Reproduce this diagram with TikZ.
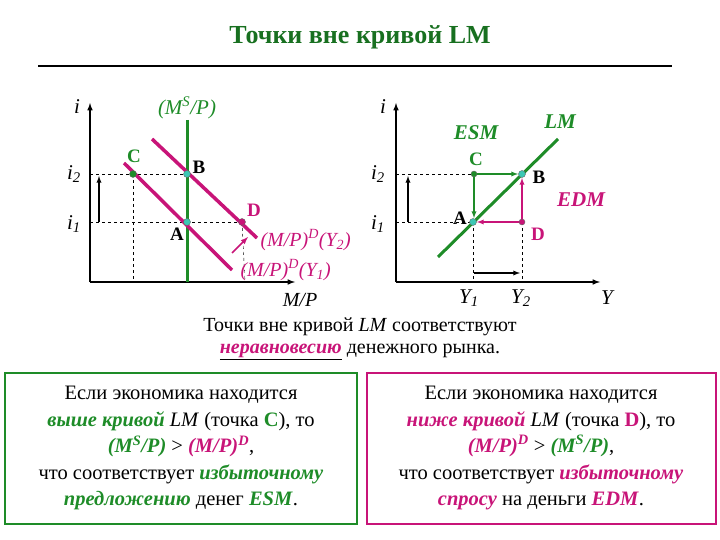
\documentclass[tikz,border=0pt]{standalone}
\usepackage{fontspec}
\setmainfont{Liberation Serif}
\begin{document}
\begin{tikzpicture}[x=1pt,y=-1pt,
 axis/.style={line width=1.5pt,-latex},
 dsh/.style={dashed,thin},
 pt/.style={circle,inner sep=0pt,minimum size=7pt,draw=black!60},
 lab/.style={font=\fontsize{17}{18}\selectfont}]
\definecolor{G}{RGB}{30,140,40}
\definecolor{M}{RGB}{200,20,120}
\definecolor{T}{RGB}{60,200,180}
\useasboundingbox (0,0) rectangle (720,540);
\node[font=\fontsize{26}{28}\selectfont\bfseries,text=G!80!black] (title) at (360,37) {Точки вне кривой LM};
\draw[line width=2pt] (38,66) -- (672,66);
% left panel
\coordinate (o1) at (90,282);
\draw[axis] (o1) -- (90,103);
\draw[axis] (o1) -- (295,282);
\node[font=\fontsize{21}{21}\selectfont\itshape] at (77,107) {i};
\node[font=\fontsize{21}{21}\selectfont\itshape] at (74,174) {i\textsubscript{2}};
\node[font=\fontsize{21}{21}\selectfont\itshape] at (74,224) {i\textsubscript{1}};
\node[font=\fontsize{20}{20}\selectfont\itshape] at (300,300) {M/P};
\coordinate (lC) at (133,174); \coordinate (lB) at (187,174);
\coordinate (lA) at (187,222); \coordinate (lD) at (242,222);
\draw[dsh] (90,174) -- (lB); \draw[dsh] (90,222) -- (lD);
\draw[dsh] (lC) -- (133,282); \draw[dsh] (lD) -- (245,282);
\draw[line width=1.3pt,-latex] (99,222) -- (99,176);
\draw[G,line width=3pt] (187,120) -- (187,282);
\draw[M,line width=3.5pt] (124,163) -- (232,270);
\draw[M,line width=3.5pt] (152,139) -- (257,238);
\draw[M,line width=1.5pt,-latex] (232,253) -- (248,237);
\node[pt,fill=G] (C1) at (lC) {}; \node[pt,fill=T] (B1) at (lB) {};
\node[pt,fill=T] (A1) at (lA) {}; \node[pt,fill=M] (D1) at (lD) {};
\node[text=G,font=\bfseries\fontsize{19}{20}\selectfont] at (134,156) {C};
\node[font=\bfseries\fontsize{19}{20}\selectfont] at (199,167) {B};
\node[font=\bfseries\fontsize{19}{20}\selectfont] at (177,234) {A};
\node[text=M,font=\bfseries\fontsize{19}{20}\selectfont] at (254,210) {D};
\node[text=G,font=\fontsize{21}{21}\selectfont\itshape] at (187,108) {(M\textsuperscript{S}/P)};
\node[text=M,font=\fontsize{20}{20}\selectfont\itshape,anchor=west] at (257,240) {(M/P)\textsuperscript{D}(Y\textsubscript{2})};
\node[text=M,font=\fontsize{20}{20}\selectfont\itshape,anchor=west] at (237,270) {(M/P)\textsuperscript{D}(Y\textsubscript{1})};
% right panel
\coordinate (o2) at (396,282);
\draw[axis] (o2) -- (396,103);
\draw[axis] (o2) -- (600,282);
\node[font=\fontsize{21}{21}\selectfont\itshape] at (383,107) {i};
\node[font=\fontsize{21}{21}\selectfont\itshape] at (378,174) {i\textsubscript{2}};
\node[font=\fontsize{21}{21}\selectfont\itshape] at (378,224) {i\textsubscript{1}};
\node[font=\fontsize{21}{21}\selectfont\itshape] at (469,298) {Y\textsubscript{1}};
\node[font=\fontsize{21}{21}\selectfont\itshape] at (521,298) {Y\textsubscript{2}};
\node[font=\fontsize{21}{21}\selectfont\itshape] at (607,298) {Y};
\coordinate (rA) at (473,222); \coordinate (rB) at (522,174);
\coordinate (rC) at (474,174); \coordinate (rD) at (522,222);
\draw[dsh] (396,174) -- (rC); \draw[dsh] (396,222) -- (rA);
\draw[dsh] (rA) -- (473,282); \draw[dsh] (rD) -- (522,282);
\draw[line width=1.3pt,-latex] (408,222) -- (408,176);
\draw[line width=1.3pt,-latex] (474,273) -- (520,273);
\draw[G,line width=3pt] (438,257) -- (558,139);
\draw[G,line width=1.3pt,-latex] (rC) -- (518,174);
\draw[G,line width=1.3pt,-latex] (rC) -- (474,218);
\draw[M,line width=1.3pt,-latex] (rD) -- (477,222);
\draw[M,line width=1.3pt,-latex] (rD) -- (522,178);
\node[pt,fill=G,minimum size=6pt] (C2) at (rC) {}; \node[pt,fill=T] (B2) at (rB) {};
\node[pt,fill=T] (A2) at (rA) {}; \node[pt,fill=M,minimum size=6pt] (D2) at (rD) {};
\node[text=G,font=\bfseries\fontsize{19}{20}\selectfont] at (476,159) {C};
\node[font=\bfseries\fontsize{19}{20}\selectfont] at (539,177) {B};
\node[font=\bfseries\fontsize{19}{20}\selectfont] at (460,218) {A};
\node[text=M,font=\bfseries\fontsize{19}{20}\selectfont] at (538,234) {D};
\node[text=G,font=\bfseries\itshape\fontsize{21}{21}\selectfont] at (476,133) {ESM};
\node[text=G,font=\bfseries\itshape\fontsize{21}{21}\selectfont] at (560,122) {LM};
\node[text=M,font=\bfseries\itshape\fontsize{21}{21}\selectfont] at (581,200) {EDM};
% text
\node[font=\fontsize{20}{20}\selectfont] (t1) at (360,327) {Точки вне кривой \textit{LM} соответствуют};
\node[font=\fontsize{20}{20}\selectfont] (t2) at (360,352) {\underline{\textcolor{M}{\textbf{\textit{неравновесию}}}} денежного рынка.};
\draw[G,line width=2.5pt] (5,373) rectangle (357,524);
\draw[M,line width=2.5pt] (367,373) rectangle (716,524);
\node[align=center,font=\fontsize{20.5}{26.5}\selectfont] (bl) at (181,448) {Если экономика находится\\
\textcolor{G}{\textbf{\textit{выше кривой}}} \textit{LM} (точка \textcolor{G}{\textbf{C}}), то\\
\textcolor{G}{\textbf{\textit{(M\textsuperscript{S}/P)}}} > \textcolor{M}{\textbf{\textit{(M/P)\textsuperscript{D}}}},\\
что соответствует \textcolor{G}{\textbf{\textit{избыточному}}}\\
\textcolor{G}{\textbf{\textit{предложению}}} денег \textcolor{G}{\textbf{\textit{ESM}}}.};
\node[align=center,font=\fontsize{20.5}{26.5}\selectfont] (br) at (541,448) {Если экономика находится\\
\textcolor{M}{\textbf{\textit{ниже кривой}}} \textit{LM} (точка \textcolor{M}{\textbf{D}}), то\\
\textcolor{M}{\textbf{\textit{(M/P)\textsuperscript{D}}}} > \textcolor{G}{\textbf{\textit{(M\textsuperscript{S}/P)}}},\\
что соответствует \textcolor{M}{\textbf{\textit{избыточному}}}\\
\textcolor{M}{\textbf{\textit{спросу}}} на деньги \textcolor{M}{\textbf{\textit{EDM}}}.};
\end{tikzpicture}
\end{document}
